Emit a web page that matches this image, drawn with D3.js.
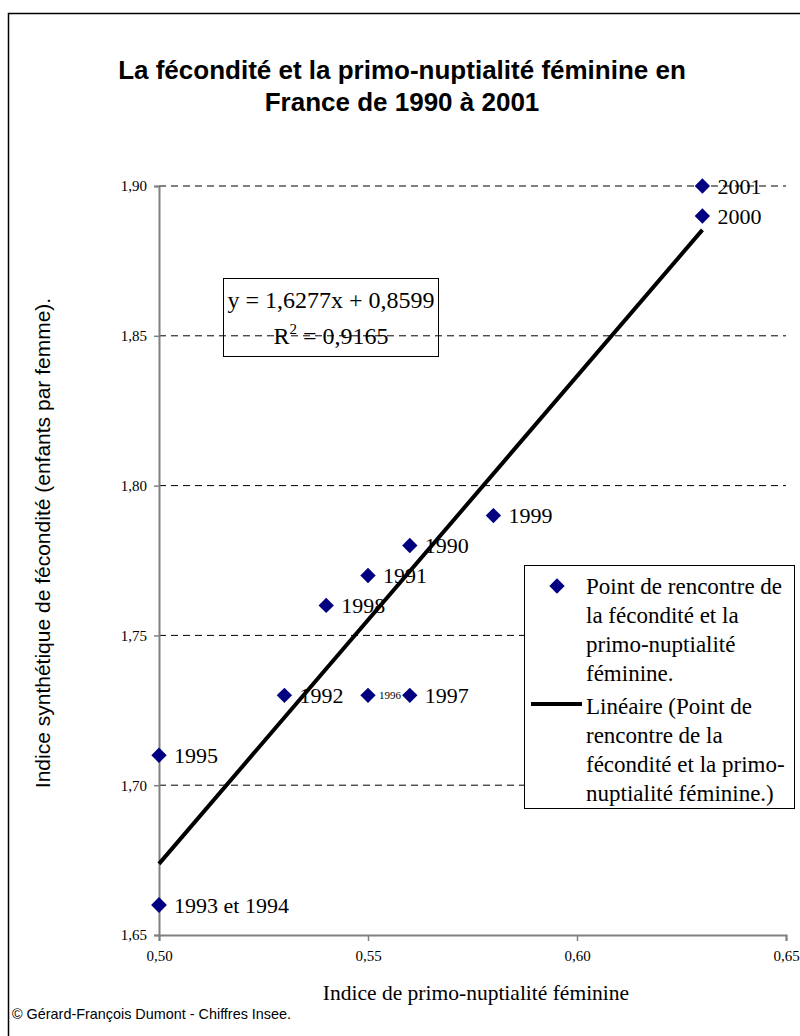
<!DOCTYPE html>
<html>
<head>
<meta charset="utf-8">
<script src="https://cdnjs.cloudflare.com/ajax/libs/d3/7.8.5/d3.min.js"></script>
<style>
  body { margin: 0; background: #fff; }
  svg { display: block; }
</style>
</head>
<body>
<svg id="chart" width="800" height="1036"></svg>
<script>
// données : indice de primo-nuptialité féminine (x) et indice synthétique de fécondité (y)
const years = ['1990', '1991', '1992', '1993', '1994', '1995', '1996', '1997', '1998', '1999', '2000', '2001']
const nuptiality = [0.56, 0.55, 0.53, 0.50, 0.50, 0.50, 0.55, 0.56, 0.54, 0.58, 0.63, 0.63]
const fertility = [1.78, 1.77, 1.73, 1.66, 1.66, 1.71, 1.73, 1.73, 1.76, 1.79, 1.89, 1.90]
const pointLabels = ['1990', '1991', '1992', '1993 et 1994', '', '1995', '1996', '1997', '1998', '1999', '2000', '2001']
const xTicks = [0.50, 0.55, 0.60, 0.65]
const yTicks = [1.65, 1.70, 1.75, 1.80, 1.85, 1.90]
const trendSlope = 1.6277, trendIntercept = 0.8599, trendR2 = 0.9165

const titleLines = ['La fécondité et la primo-nuptialité féminine en', 'France de 1990 à 2001']
const xTitle = 'Indice de primo-nuptialité féminine'
const yTitle = 'Indice synthétique de fécondité (enfants par femme).'
const credit = '© Gérard-François Dumont - Chiffres Insee.'
const legendPoint = ['Point de rencontre de', 'la fécondité et la', 'primo-nuptialité', 'féminine.']
const legendLine = ['Linéaire (Point de', 'rencontre de la', 'fécondité et la primo-', 'nuptialité féminine.)']

const smallLabels = ['1996']
const serif = '"Liberation Serif", "Times New Roman", serif'
const sans = '"Liberation Sans", Arial, sans-serif'
const navy = '#000080'

const fr = d3.formatLocale({ decimal: ',', thousands: ' ', grouping: [3], currency: ['', ' €'] })
const fmt = fr.format('.2f')

const svg = d3.select('#chart')
const plot = { left: 159, right: 786, top: 186, bottom: 935 }

// cadre
svg.append('rect')
	.attr('x', 8.5).attr('y', 13.5)
	.attr('width', 820).attr('height', 1060)
	.attr('fill', 'none').attr('stroke', '#000').attr('stroke-width', 1.5)

let scaleX = d3.scaleLinear().domain([0.50, 0.65]).range([plot.left, plot.right])
let scaleY = d3.scaleLinear().domain([1.65, 1.90]).range([plot.bottom, plot.top])

// grille
svg.append('g').selectAll('line')
	.data(yTicks.filter(d => d > 1.65))
	.join('line')
	.attr('x1', plot.left).attr('x2', plot.right)
	.attr('y1', d => scaleY(d)).attr('y2', d => scaleY(d))
	.attr('stroke', '#000').attr('stroke-width', 1)
	.attr('stroke-dasharray', '7,5')

// axes
let yAxis = svg.append('g')
	.attr('transform', `translate(${plot.left},0)`)
	.call(d3.axisLeft(scaleY).tickValues(yTicks).tickFormat(fmt).tickSize(5).tickPadding(7))
let xAxis = svg.append('g')
	.attr('transform', `translate(0,${plot.bottom})`)
	.call(d3.axisBottom(scaleX).tickValues(xTicks).tickFormat(fmt).tickSize(6).tickPadding(9))
;[xAxis, yAxis].forEach(ax => {
	ax.attr('font-size', null).attr('font-family', null)
	ax.select('.domain').attr('stroke', '#808080').attr('stroke-width', 2)
	ax.selectAll('.tick line').attr('stroke', '#808080').attr('stroke-width', 1.5)
	ax.selectAll('.tick text').attr('fill', '#000').style('font-family', serif).style('font-size', '15px')
})

// droite de tendance
let xMin = d3.min(nuptiality), xMax = d3.max(nuptiality)
let trend = d3.line()
	.x(d => scaleX(d))
	.y(d => scaleY(trendSlope * d + trendIntercept))
svg.append('path')
	.attr('d', trend([xMin, xMax]))
	.attr('fill', 'none').attr('stroke', '#000').attr('stroke-width', 4)

// points
const diamond = d3.symbol().type(d3.symbolDiamond2).size(150)
svg.append('g').selectAll('path')
	.data(years.map((y, i) => ({ year: y, x: nuptiality[i], y: fertility[i] })))
	.join('path')
	.attr('d', diamond)
	.attr('transform', d => `translate(${scaleX(d.x)},${scaleY(d.y)})`)
	.attr('fill', navy)

svg.append('g').selectAll('text')
	.data(years.map((y, i) => ({ x: nuptiality[i], y: fertility[i], label: pointLabels[i] })).filter(d => d.label))
	.join('text')
	.attr('x', d => scaleX(d.x) + (smallLabels.includes(d.label) ? 11 : 15))
	.attr('y', d => scaleY(d.y))
	.attr('dy', '0.35em')
	.style('font-family', serif)
	.style('font-size', d => smallLabels.includes(d.label) ? '11px' : '22px')
	.text(d => d.label)

// équation
let eq = svg.append('g')
eq.append('rect')
	.attr('x', 223.5).attr('y', 278.5).attr('width', 215).attr('height', 78)
	.attr('fill', 'none').attr('stroke', '#000').attr('stroke-width', 1)
let eqText = eq.append('text')
	.attr('text-anchor', 'middle')
	.style('font-family', serif).style('font-size', '24px')
eqText.append('tspan').attr('x', 331).attr('y', 308)
	.text(`y = ${fr.format('.4f')(trendSlope)}x + ${fr.format('.4f')(trendIntercept)}`)
let r2 = eqText.append('tspan').attr('x', 331).attr('y', 344)
r2.append('tspan').text('R')
r2.append('tspan').attr('dy', -10).style('font-size', '15px').text('2')
r2.append('tspan').attr('dy', 10).text(` = ${fr.format('.4f')(trendR2)}`)

// légende
let legend = svg.append('g')
legend.append('rect')
	.attr('x', 524.5).attr('y', 565.5).attr('width', 270).attr('height', 243)
	.attr('fill', '#fff').attr('stroke', '#000').attr('stroke-width', 1)
legend.append('path')
	.attr('d', diamond)
	.attr('transform', 'translate(557,586)')
	.attr('fill', navy)
legend.append('line')
	.attr('x1', 531).attr('x2', 582).attr('y1', 704).attr('y2', 704)
	.attr('stroke', '#000').attr('stroke-width', 4)
;[[legendPoint, 586], [legendLine, 706]].forEach(([lines, y0]) => {
	legend.append('g').selectAll('text')
		.data(lines)
		.join('text')
		.attr('x', 586)
		.attr('y', (d, i) => y0 + i * 29)
		.attr('dy', '0.35em')
		.style('font-family', serif).style('font-size', '23px')
		.text(d => d)
})

// titres
svg.append('g').selectAll('text')
	.data(titleLines)
	.join('text')
	.attr('x', 402)
	.attr('y', (d, i) => 79 + i * 32)
	.attr('text-anchor', 'middle')
	.style('font-family', sans).style('font-weight', 'bold').style('font-size', '26px')
	.text(d => d)

svg.append('text')
	.attr('x', 476).attr('y', 1000)
	.attr('text-anchor', 'middle')
	.style('font-family', serif).style('font-size', '21.5px')
	.text(xTitle)

svg.append('text')
	.attr('transform', 'translate(50,543) rotate(-90)')
	.attr('text-anchor', 'middle')
	.style('font-family', sans).style('font-size', '21px')
	.text(yTitle)

svg.append('text')
	.attr('x', 12).attr('y', 1019)
	.style('font-family', sans).style('font-size', '14.4px')
	.text(credit)
</script>
</body>
</html>
